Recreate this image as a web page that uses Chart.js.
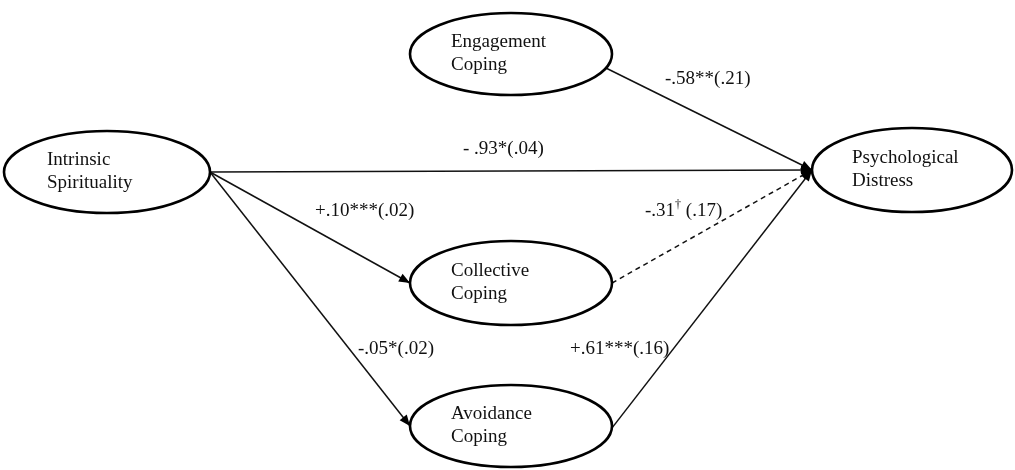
<!DOCTYPE html>
<html>
<head>
<meta charset="utf-8">
<script src="https://cdn.jsdelivr.net/npm/chart.js@4"></script>
<style>
  html, body { margin: 0; padding: 0; background: #fff; }
  #wrap { width: 1015px; height: 470px; position: relative; }
</style>
</head>
<body>
<div id="wrap"><canvas id="myChart"></canvas></div>
<script>
// nodes of the path model
const nodeNames = [['Intrinsic', 'Spirituality'], ['Engagement', 'Coping'], ['Psychological', 'Distress'], ['Collective', 'Coping'], ['Avoidance', 'Coping']];
const nodeX = [107, 511, 912, 511, 511];
const nodeY = [172, 54, 170, 283, 426];

// paths (from -> to) and their coefficients
const edgeFrom = [1, 0, 0, 0, 3, 4];
const edgeTo = [2, 2, 3, 4, 2, 2];
const edgeText = ['-.58**(.21)', '- .93*(.04)', '+.10***(.02)', '-.05*(.02)', '-.31\u2020 (.17)', '+.61***(.16)'];
const edgeDashed = [false, false, false, false, true, false];

// layout only
const nodeRx = [103, 101, 100, 101, 101];
const nodeRy = [41, 41, 42, 42, 41];
const startAngle = [20, 0, 0, 0, 0, 3];
const labelX = [665, 463, 315, 358, 645, 570];
const labelY = [84, 154, 216, 354, 216, 354];

const FONT = '19px "Liberation Serif", "Times New Roman", serif';

function edgePoints(i) {
  const a = edgeFrom[i], b = edgeTo[i];
  const t = startAngle[i] * Math.PI / 180;
  return [
    { x: nodeX[a] + nodeRx[a] * Math.cos(t), y: nodeY[a] + nodeRy[a] * Math.sin(t) },
    { x: nodeX[b] - nodeRx[b], y: nodeY[b] }
  ];
}

const datasets = edgeFrom.map((f, i) => ({
  label: edgeText[i],
  data: edgePoints(i),
  showLine: true,
  borderColor: '#111',
  borderWidth: 1.5,
  borderDash: edgeDashed[i] ? [5, 4] : [],
  pointRadius: 0
}));

const diagram = {
  id: 'diagram',
  afterDatasetsDraw(chart) {
    const c = chart.ctx;
    const xs = chart.scales.x, ys = chart.scales.y;
    c.save();
    // arrowheads
    chart.data.datasets.forEach((ds, i) => {
      const pts = chart.getDatasetMeta(i).data;
      const p0 = pts[0], p1 = pts[1];
      const ang = Math.atan2(p1.y - p0.y, p1.x - p0.x);
      c.save();
      c.translate(p1.x, p1.y);
      c.rotate(ang);
      c.fillStyle = '#000';
      c.beginPath();
      c.moveTo(0, 0);
      c.lineTo(-11, -4.5);
      c.lineTo(-11, 4.5);
      c.closePath();
      c.fill();
      c.restore();
    });
    // ellipses + names
    c.lineWidth = 2.6;
    c.strokeStyle = '#000';
    c.fillStyle = '#111';
    c.font = FONT;
    c.textAlign = 'left';
    c.textBaseline = 'alphabetic';
    nodeNames.forEach((lines, i) => {
      const cx = xs.getPixelForValue(nodeX[i]);
      const cy = ys.getPixelForValue(nodeY[i]);
      const rx = Math.abs(xs.getPixelForValue(nodeX[i] + nodeRx[i]) - cx);
      const ry = Math.abs(ys.getPixelForValue(nodeY[i] + nodeRy[i]) - cy);
      c.beginPath();
      c.ellipse(cx, cy, rx, ry, 0, 0, Math.PI * 2);
      c.stroke();
      c.fillText(lines[0], cx - 60, cy - 7);
      c.fillText(lines[1], cx - 60, cy + 16);
    });
    // coefficients
    edgeText.forEach((txt, i) => {
      let x = xs.getPixelForValue(labelX[i]);
      const y = ys.getPixelForValue(labelY[i]);
      const parts = txt.split('\u2020');
      c.font = FONT;
      c.fillText(parts[0], x, y);
      if (parts.length > 1) {
        x += c.measureText(parts[0]).width;
        c.font = '12px "Liberation Serif", serif';
        c.fillText('\u2020', x, y - 8);
        x += c.measureText('\u2020').width;
        c.font = FONT;
        c.fillText(parts[1], x, y);
      }
    });
    c.restore();
  }
};

new Chart(document.getElementById('myChart'), {
  type: 'scatter',
  data: { datasets: datasets },
  options: {
    responsive: true,
    maintainAspectRatio: false,
    animation: false,
    layout: { padding: 0 },
    plugins: { legend: { display: false }, tooltip: { enabled: false } },
    scales: {
      x: { type: 'linear', min: 0, max: 1015, display: false },
      y: { type: 'linear', min: 0, max: 470, reverse: true, display: false }
    }
  },
  plugins: [diagram]
});
</script>
</body>
</html>
